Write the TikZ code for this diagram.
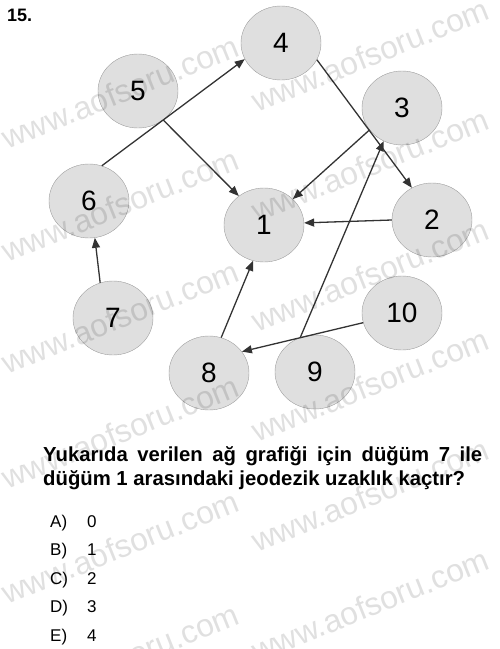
\documentclass[tikz,border=0pt]{standalone}
\usepackage{fontspec}
\setmainfont{Liberation Sans}
\usetikzlibrary{shapes.geometric,arrows.meta}
\begin{document}
\begin{tikzpicture}
  [x=1pt,y=-1pt,every node/.style={ellipse,draw=gray!75,fill=gray!25,minimum width=80pt,minimum height=74pt,inner sep=0pt,font=\fontsize{28}{28}\selectfont}]
  \tikzstyle{textline} = [shape=rectangle,draw=none,fill=none,minimum width=0pt,minimum height=0pt,inner sep=0pt,anchor=base west]
  \tikzstyle{wmark} = [textline,rotate=22,text=black,text opacity=.12,font=\fontsize{32}{32}\selectfont]
  \tikzstyle{edge} = [draw=black!80,line width=1.3pt,-{Triangle[length=10pt,width=8pt]}]
  \useasboundingbox (0,0) rectangle (500,649);
  \node (n4) at (281,43)  {4};
  \node (n5) at (138,91)  {5};
  \node (n3) at (402,108) {3};
  \node (n6) at (89,201)  {6};
  \node (n1) at (264,225) {1};
  \node (n2) at (432,220) {2};
  \node (n7) at (113,318) {7};
  \node (n10) at (402,313) {10};
  \node (n8) at (209,373) {8};
  \node (n9) at (315,372) {9};
  \foreach \source/\sa/\dest/\da in {n6/70/n4/204,n5/-49/n1/131,n4/-25/n2/122,n3/214/n1/42,n9/113/n3/241,n2/180/n1/3,n7/110/n6/-81,n8/71/n1/253,n10/194/n8/33}
   \draw[edge] (\source.\sa) -- (\dest.\da);
  \node[textline,font=\fontsize{18}{18}\selectfont\bfseries] (qnum) at (7,21) {15.};
  \node[textline,font=\fontsize{20.3}{24}\selectfont\bfseries] (q1) at (43,461) {\makebox[439pt][s]{Yukarıda verilen ağ grafiği için düğüm 7 ile}};
  \node[textline,font=\fontsize{20.3}{24}\selectfont\bfseries] (q2) at (43,485) {düğüm 1 arasındaki jeodezik uzaklık kaçtır?};
  \foreach \opt/\val/\yy in {A/0/527,B/1/555.5,C/2/584,D/3/612.5,E/4/641}
  {
   \node[textline,font=\fontsize{17}{17}\selectfont] (o\opt) at (50,\yy) {\opt)};
   \node[textline,font=\fontsize{17}{17}\selectfont] (v\opt) at (87,\yy) {\val};
  }
  \foreach \wx/\wy in {7/150,7/263,7/375,7/490,7/605,7/718,257/113,257/223,257/333,257/443,257/553,257/663}
   \node[wmark] (w\wx-\wy) at (\wx,\wy) {www.aofsoru.com};
\end{tikzpicture}
\end{document}
